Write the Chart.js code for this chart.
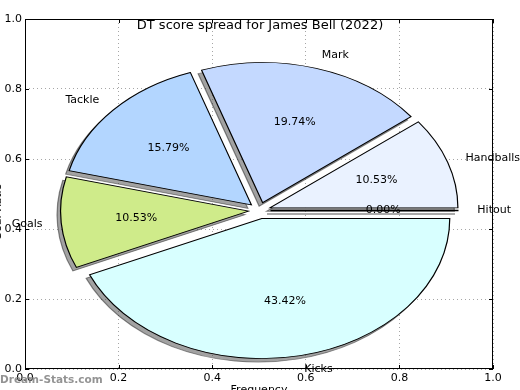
<!DOCTYPE html>
<html>
<head>
<meta charset="utf-8">
<script src="https://cdn.jsdelivr.net/npm/chart.js@4.4.1/dist/chart.umd.min.js"></script>
<style>
  body { margin: 0; background: #fff; }
  #wrap { position: relative; width: 520px; height: 390px; }
  #wrap canvas { position: absolute; left: 0; top: 0; }
</style>
</head>
<body>
<div id="wrap">
  <canvas id="axes" width="520" height="390"></canvas>
  <canvas id="pie" width="520" height="390"></canvas>
</div>
<script>
// slices go counter-clockwise from 3 o'clock, like the original
const categories = ['Handballs', 'Mark', 'Tackle', 'Goals', 'Kicks', 'Hitout'];
const counts = [8, 15, 12, 8, 33, 0];
const sliceColors = ['#eaf2ff', '#c4d9ff', '#b3d6ff', '#cfeb8a', '#d8ffff', '#ffffff'];
const axisTicks = [0, 0.2, 0.4, 0.6, 0.8, 1.0];

const PIE_RADIUS = 188;
const SQUASH = 0.745;   // vertical radius / horizontal radius
const EXPLODE = 11;
const SHADOW = 3.5;

Chart.defaults.font.family = '"DejaVu Sans"';
Chart.defaults.font.size = 11;
Chart.defaults.color = '#000';

const total = counts.reduce((a, b) => a + b, 0);
// chart.js goes clockwise, so reverse
const pieLabels = categories.slice().reverse();
const pieCounts = counts.slice().reverse();
const pieColors = sliceColors.slice().reverse();

const frame = {
  id: 'frame',
  afterDraw(chart) {
    const { ctx, chartArea: a, scales } = chart;
    ctx.save();
    ctx.strokeStyle = '#000';
    ctx.lineWidth = 1;
    ctx.strokeRect(a.left + 0.5, a.top + 0.5, a.width - 1, a.height - 1);
    ctx.beginPath();
    axisTicks.forEach(v => {
      const x = Math.round(scales.x.getPixelForValue(v)) + 0.5;
      const y = Math.round(scales.y.getPixelForValue(v)) + 0.5;
      ctx.moveTo(x, a.bottom); ctx.lineTo(x, a.bottom - 4);
      ctx.moveTo(x, a.top); ctx.lineTo(x, a.top + 4);
      ctx.moveTo(a.left, y); ctx.lineTo(a.left + 4, y);
      ctx.moveTo(a.right, y); ctx.lineTo(a.right - 4, y);
    });
    ctx.stroke();

    ctx.fillStyle = '#000';
    ctx.textAlign = 'center';
    ctx.textBaseline = 'middle';
    ctx.font = '13px "DejaVu Sans"';
    ctx.fillText('DT score spread for James Bell (2022)', 260, 26);

    ctx.font = '11px "DejaVu Sans"';
    ctx.textBaseline = 'top';
    ctx.fillText('Frequency', (a.left + a.right) / 2, 385);

    ctx.save();
    ctx.translate(4, 212);
    ctx.rotate(-Math.PI / 2);
    ctx.textBaseline = 'bottom';
    ctx.fillText('Goal Ratio', 0, 0);
    ctx.restore();

    ctx.textAlign = 'left';
    ctx.textBaseline = 'middle';
    ctx.font = 'bold 10.5px "DejaVu Sans"';
    ctx.fillStyle = 'rgba(120,120,120,0.8)';
    ctx.fillText('Dream-Stats.com', 0, 380);
    ctx.restore();
  }
};

new Chart(document.getElementById('axes'), {
  type: 'scatter',
  data: { datasets: [] },
  options: {
    responsive: false,
    animation: false,
    events: [],
    layout: { padding: { left: 0, right: 27, top: 19, bottom: 0 } },
    plugins: { legend: { display: false }, tooltip: { enabled: false } },
    scales: {
      x: {
        type: 'linear', min: 0, max: 1,
        afterFit: s => { s.height = 21; },
        afterBuildTicks: s => { s.ticks = axisTicks.map(v => ({ value: v })); },
        ticks: { callback: v => v.toFixed(1), padding: 3, maxRotation: 0, autoSkip: false },
        grid: { drawTicks: false, color: 'rgba(0,0,0,0.35)', lineWidth: 1, borderDash: [1, 3] },
        border: { display: false, dash: [1, 3] }
      },
      y: {
        type: 'linear', min: 0, max: 1,
        afterFit: s => { s.width = 25; },
        afterBuildTicks: s => { s.ticks = axisTicks.map(v => ({ value: v })); },
        ticks: { callback: v => v.toFixed(1), padding: 3, autoSkip: false },
        grid: { drawTicks: false, color: 'rgba(0,0,0,0.35)', lineWidth: 1, borderDash: [1, 3] },
        border: { display: false, dash: [1, 3] }
      }
    }
  },
  plugins: [frame]
});

// draws the exploded, squashed pie with shadows, then the labels
const pieDraw = {
  id: 'pieDraw',
  beforeDatasetsDraw(chart) {
    const ctx = chart.ctx;
    const arcs = chart.getDatasetMeta(0).data;
    [true, false].forEach(isShadow => {
      arcs.forEach(arc => {
        const mid = (arc.startAngle + arc.endAngle) / 2;
        ctx.save();
        if (isShadow) ctx.translate(-SHADOW, SHADOW);
        ctx.translate(arc.x, arc.y);
        ctx.scale(1, SQUASH);
        ctx.translate(-arc.x, -arc.y);
        ctx.translate(Math.cos(mid) * EXPLODE, Math.sin(mid) * EXPLODE);
        const opts = arc.options;
        if (isShadow) {
          arc.options = Object.assign({}, opts, {
            backgroundColor: 'rgba(70,70,70,0.5)',
            borderColor: 'rgba(30,30,30,0.5)'
          });
        }
        if (arc.circumference > 0) {
          arc.draw(ctx);
        } else {
          ctx.strokeStyle = arc.options.borderColor;
          ctx.lineWidth = 2;
          ctx.beginPath();
          ctx.moveTo(arc.x, arc.y);
          ctx.lineTo(arc.x + Math.cos(arc.startAngle) * arc.outerRadius,
                     arc.y + Math.sin(arc.startAngle) * arc.outerRadius);
          ctx.stroke();
        }
        arc.options = opts;
        ctx.restore();
      });
    });
    return false;
  },
  afterDraw(chart) {
    const ctx = chart.ctx;
    const arcs = chart.getDatasetMeta(0).data;
    ctx.save();
    ctx.fillStyle = '#000';
    ctx.font = '11px "DejaVu Sans"';
    ctx.textBaseline = 'middle';
    arcs.forEach((arc, i) => {
      const mid = (arc.startAngle + arc.endAngle) / 2;
      const c = Math.cos(mid), s = Math.sin(mid);
      const ex = arc.x + c * EXPLODE, ey = arc.y + s * EXPLODE * SQUASH;
      const r = arc.outerRadius;
      ctx.textAlign = c > 0 ? 'left' : 'right';
      ctx.fillText(pieLabels[i], ex + 1.1 * r * c, ey + 1.1 * r * s * SQUASH);
      ctx.textAlign = 'center';
      ctx.fillText((pieCounts[i] / total * 100).toFixed(2) + '%', ex + 0.6 * r * c, ey + 0.6 * r * s * SQUASH);
    });
    ctx.restore();
  }
};

new Chart(document.getElementById('pie'), {
  type: 'pie',
  data: {
    labels: pieLabels,
    datasets: [{
      data: pieCounts,
      backgroundColor: pieColors,
      borderColor: '#000',
      borderWidth: 1.2,
      borderJoinStyle: 'miter',
      radius: PIE_RADIUS,
      clip: false
    }]
  },
  options: {
    responsive: false,
    animation: false,
    events: [],
    rotation: 90,
    layout: { padding: { left: 0, right: 1, top: 31, bottom: 0 } },
    plugins: { legend: { display: false }, tooltip: { enabled: false } }
  },
  plugins: [pieDraw]
});
</script>
</body>
</html>
